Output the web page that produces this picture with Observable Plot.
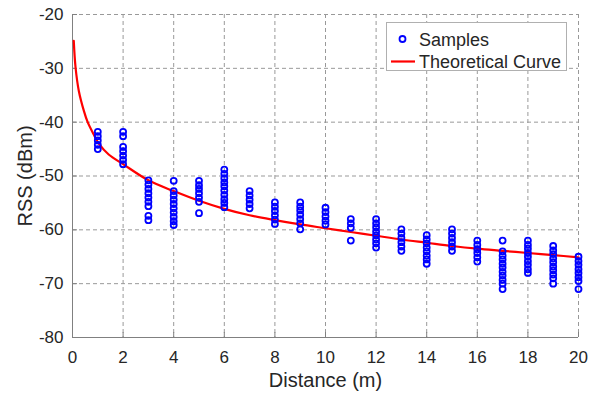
<!DOCTYPE html>
<html>
<head>
<meta charset="utf-8">
<script src="https://cdn.jsdelivr.net/npm/d3@7"></script>
<script src="https://cdn.jsdelivr.net/npm/@observablehq/plot@0.6"></script>
<style>
  body { margin: 0; background: #fff; }
  #chart { position: relative; width: 594px; height: 395px; }
  #legend { position: absolute; left: 0; top: 0; pointer-events: none; }
</style>
</head>
<body>
<div id="chart"></div>
<script>
// ---- Data ----
const distances = [1, 2, 3, 4, 5, 6, 7, 8, 9, 10, 11, 12, 13, 14, 15, 16, 17, 18, 19, 20];
const rssSamples = [
  [-41.8, -42.6, -43.4, -44.2, -45.0],
  [-41.8, -42.6, -44.6, -45.4, -46.2, -47.0, -47.8],
  [-50.8, -51.6, -52.4, -53.2, -54.0, -54.8, -55.6, -57.4, -58.2],
  [-50.9, -52.8, -53.6, -54.4, -55.2, -56.0, -56.8, -57.6, -58.4, -59.1],
  [-50.9, -51.7, -52.4, -53.2, -54.0, -54.8, -56.9],
  [-48.8, -49.6, -50.4, -51.2, -51.9, -52.7, -53.5, -54.3, -55.0, -55.8],
  [-52.8, -53.6, -54.4, -55.2, -56.0],
  [-54.9, -55.7, -56.5, -57.3, -58.1, -58.9],
  [-54.9, -55.7, -56.4, -57.2, -58.0, -58.8, -59.9],
  [-55.9, -56.7, -57.5, -58.3, -59.0],
  [-58.0, -58.8, -59.6, -62.0],
  [-58.0, -58.8, -59.5, -60.3, -61.0, -61.8, -62.5, -63.3],
  [-59.9, -60.7, -61.5, -62.3, -63.1, -63.9],
  [-61.0, -61.8, -62.5, -63.3, -64.0, -64.8, -65.5, -66.3],
  [-59.9, -60.7, -61.5, -62.3, -63.1, -63.9],
  [-62.0, -62.8, -63.6, -64.3, -65.1, -65.9],
  [-62.0, -64.0, -64.8, -65.5, -66.3, -67.0, -67.8, -68.5, -69.3, -70.0, -71.0],
  [-62.0, -62.8, -63.5, -64.3, -65.0, -65.8, -66.5, -67.3, -68.0],
  [-63.0, -63.8, -64.5, -65.3, -66.0, -66.8, -67.5, -68.3, -69.0, -70.0],
  [-65.0, -65.8, -66.5, -67.3, -68.0, -68.8, -69.5, -71.0]
];
const curveDistance = [0.05, 0.12, 0.25, 0.45, 0.6, 0.84, 1.04, 1.43, 2, 3, 4, 5, 6, 7, 8, 9, 10, 11, 12, 13, 14, 15, 16, 17, 18, 19, 20];
const curveRss = [-24.9, -29.8, -34.2, -37.9, -40.0, -42.3, -44.0, -46.0, -47.8, -50.8, -52.8, -54.6, -56.1, -57.3, -58.2, -59.0, -59.7, -60.4, -61.1, -61.8, -62.4, -63.0, -63.5, -63.9, -64.3, -64.7, -65.1];
const xTicks = [0, 2, 4, 6, 8, 10, 12, 14, 16, 18, 20];
const yTicks = [-80, -70, -60, -50, -40, -30, -20];
const xLabel = "Distance (m)";
const yLabel = "RSS (dBm)";
const legendLabels = ["Samples", "Theoretical Curve"];

// ---- Tables built from the arrays ----
const samples = distances.flatMap((d, i) => rssSamples[i].map(v => ({distance: d, rss: v})));
const curve = curveDistance.map((d, i) => ({distance: d, rss: curveRss[i]}));

const axisGray = "#808080";
const gridGray = "#999999";
const plainNumber = d => String(d);

const plot = Plot.plot({
  width: 594,
  height: 395,
  marginLeft: 72,
  marginRight: 16,
  marginTop: 14,
  marginBottom: 58,
  style: {fontFamily: "'Liberation Sans', Arial, sans-serif", fontSize: "17px", color: "#262626", background: "#fff"},
  x: {domain: [0, 20]},
  y: {domain: [-80, -20]},
  marks: [
    Plot.gridX(xTicks, {stroke: gridGray, strokeOpacity: 1, strokeDasharray: "4,3"}),
    Plot.gridY(yTicks, {stroke: gridGray, strokeOpacity: 1, strokeDasharray: "4,3"}),
    Plot.ruleX([0], {stroke: axisGray}),
    Plot.ruleY([-80], {stroke: axisGray}),
    Plot.tickX(xTicks, {x: d => d, stroke: axisGray, insetTop: 318}),
    Plot.tickY(yTicks, {y: d => d, stroke: axisGray, insetRight: 501}),
    Plot.axisX(xTicks, {tickSize: 0, tickPadding: 13, label: null, tickFormat: plainNumber}),
    Plot.axisY(yTicks, {tickSize: 0, tickPadding: 9, label: null, tickFormat: plainNumber}),
    Plot.line(curve, {x: "distance", y: "rss", stroke: "#ff0000", strokeWidth: 2.2, curve: "catmull-rom"}),
    Plot.dot(samples, {x: "distance", y: "rss", r: 3, stroke: "#0000ff", strokeWidth: 1.8, fill: "none"}),
    Plot.text([xLabel], {frameAnchor: "bottom", dy: 43, fontSize: 20, textAnchor: "middle", lineAnchor: "middle"}),
    Plot.text([yLabel], {frameAnchor: "left", dx: -47, rotate: -90, fontSize: 20, textAnchor: "middle", lineAnchor: "middle"})
  ]
});

const chart = document.getElementById("chart");
chart.appendChild(plot);

// ---- Legend (drawn on top, like MATLAB's boxed legend) ----
const lg = d3.select(chart).append("svg")
  .attr("id", "legend")
  .attr("width", 594).attr("height", 395)
  .style("font-family", "'Liberation Sans', Arial, sans-serif");
lg.append("rect").attr("x", 386.5).attr("y", 22.5).attr("width", 180).attr("height", 48)
  .attr("fill", "#fff").attr("stroke", "#b0b0b0").attr("stroke-width", 1);
lg.append("circle").attr("cx", 402.5).attr("cy", 39).attr("r", 3)
  .attr("fill", "none").attr("stroke", "#0000ff").attr("stroke-width", 1.8);
lg.append("line").attr("x1", 391).attr("x2", 415).attr("y1", 61.5).attr("y2", 61.5)
  .attr("stroke", "#ff0000").attr("stroke-width", 2.2);
lg.append("text").attr("x", 419).attr("y", 45.5).attr("font-size", 18).attr("fill", "#262626").text(legendLabels[0]);
lg.append("text").attr("x", 419).attr("y", 68).attr("font-size", 18).attr("fill", "#262626").text(legendLabels[1]);
</script>
</body>
</html>
